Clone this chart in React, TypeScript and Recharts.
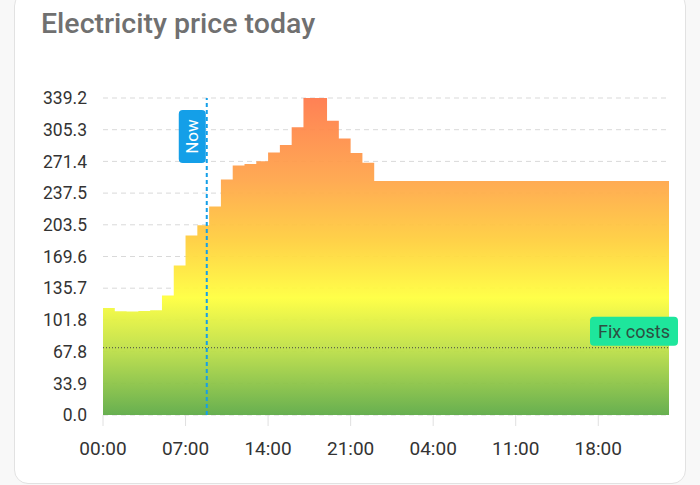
import React from 'react'
import {
  ComposedChart, Area, XAxis, YAxis, CartesianGrid, ReferenceLine
} from 'recharts'

// hourly prices, today then tomorrow
const todayPrices = [
  114.5, 111, 110.8, 111.2, 112, 128, 160, 192, 203, 223, 252, 267,
  268.5, 271.5, 281, 289, 308, 339.2, 339.2, 315, 296, 280.5, 270, 250.5
]
const tomorrowPrices = [
  250.5, 250.5, 250.5, 250.5, 250.5, 250.5, 250.5, 250.5, 250.5, 250.5, 250.5, 250.5,
  250.5, 250.5, 250.5, 250.5, 250.5, 250.5, 250.5, 250.5, 250.5, 250.5, 250.5, 250.5
]
const xTicks = [0, 7, 14, 21, 28, 35, 42]
const xTickLabels = ['00:00', '07:00', '14:00', '21:00', '04:00', '11:00', '18:00']
const yTicks = [0, 33.92, 67.85, 101.77, 135.7, 169.62, 203.54, 237.47, 271.39, 305.32, 339.24]
const nowHour = 8.8
const fixCosts = 72

const allPrices = [...todayPrices, ...tomorrowPrices]
const chartData = [
  ...allPrices.map((price, hour) => ({ hour, price })),
  { hour: allPrices.length, price: allPrices[allPrices.length - 1] }
]

const NowLabel = (props: any) => {
  const { x, y } = props.viewBox
  return (
    <g>
      <rect x={x - 28} y={y + 12} width={27} height={53} rx={4} fill="#149fe8" />
      <text
        x={x - 14.5} y={y + 38.5}
        transform={`rotate(-90 ${x - 14.5} ${y + 38.5})`}
        textAnchor="middle" dominantBaseline="central"
        fill="#fff" fontSize={17} fontFamily="Roboto"
      >Now</text>
    </g>
  )
}

const FixLabel = (props: any) => {
  const { x, y, width } = props.viewBox
  const right = x + width + 9
  return (
    <g>
      <rect x={right - 88} y={y - 31} width={88} height={29} rx={4} fill="#1ee69c" />
      <text
        x={right - 44} y={y - 16.5}
        textAnchor="middle" dominantBaseline="central"
        fill="#2d4f42" fontSize={18} fontFamily="Roboto"
      >Fix costs</text>
    </g>
  )
}

export default function App() {
  return (
    <div style={{ position: 'fixed', left: 0, top: 0, width: 700, height: 485, background: '#f8f8f8', overflow: 'hidden', fontFamily: 'Roboto' }}>
      <div style={{ position: 'absolute', left: 14, top: -8, width: 670, height: 490, background: '#fff', border: '1px solid #e2e2e2', borderRadius: 14 }} />
      <div style={{ position: 'absolute', left: 41, top: 7, fontSize: 28.5, fontWeight: 500, color: '#707070' }}>
        Electricity price today
      </div>
      <div style={{ position: 'absolute', left: 0, top: 0 }}>
        <ComposedChart width={700} height={485} data={chartData} margin={{ top: 98, right: 31, bottom: 30, left: 40 }}>
          <defs>
            <linearGradient id="priceGradient" x1="0" y1="0" x2="0" y2="1">
              <stop offset="0%" stopColor="#ff7a4c" />
              <stop offset="26%" stopColor="#ffa64b" />
              <stop offset="45%" stopColor="#ffcf3f" />
              <stop offset="63%" stopColor="#ffff3f" />
              <stop offset="79%" stopColor="#bfe048" />
              <stop offset="100%" stopColor="#5fab47" />
            </linearGradient>
          </defs>
          <CartesianGrid vertical={false} stroke="#d9d9d9" strokeDasharray="5 4" />
          <XAxis
            dataKey="hour" type="number" domain={[0, 48]} ticks={xTicks}
            tickFormatter={(v: number) => xTickLabels[xTicks.indexOf(v)]}
            axisLine={false} tickLine={{ stroke: '#e0e0e0' }} tickSize={11} tickMargin={16}
            height={40} tick={{ fill: '#333', fontSize: 19, fontFamily: 'Roboto' }}
          />
          <YAxis
            type="number" domain={[0, 339.24]} ticks={yTicks} interval={0}
            tickFormatter={(v: number) => v.toFixed(1)}
            axisLine={false} tickLine={false} tickMargin={10}
            width={63} tick={{ fill: '#333', fontSize: 17.5, fontFamily: 'Roboto' }}
          />
          <Area
            type="stepAfter" dataKey="price" stroke="none" fill="url(#priceGradient)"
            fillOpacity={0.95} isAnimationActive={false}
          />
          <ReferenceLine y={fixCosts} stroke="#444" strokeDasharray="1 2" label={FixLabel} />
          <ReferenceLine x={nowHour} stroke="#149fe8" strokeWidth={2} strokeDasharray="4 3" label={NowLabel} />
        </ComposedChart>
      </div>
    </div>
  )
}
